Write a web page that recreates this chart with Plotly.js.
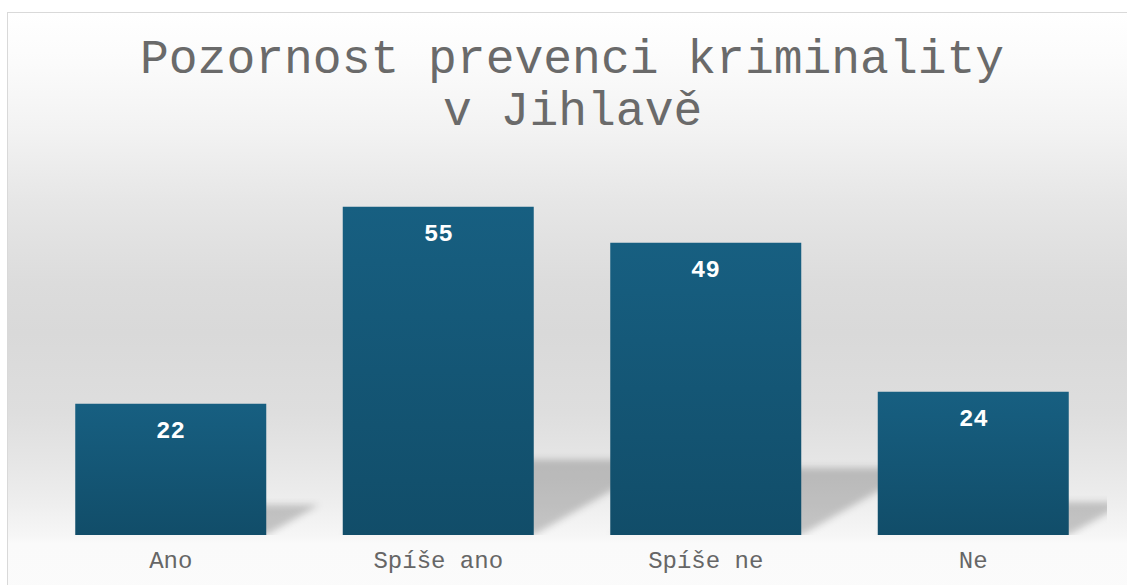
<!DOCTYPE html>
<html>
<head>
<meta charset="utf-8">
<script src="https://cdn.plot.ly/plotly-3.0.1.min.js"></script>
<style>
  html, body { margin: 0; padding: 0; width: 1127px; height: 585px; overflow: hidden; background: #ffffff; }
  #bg {
    position: absolute; left: 7px; top: 12px; width: 1133px; height: 600px;
    border: 1px solid #d9d9d9;
    background: linear-gradient(to bottom, #ffffff 0px, #fbfbfb 50px, #f2f2f2 120px, #e6e6e6 190px, #dcdcdc 270px, #d9d9d9 320px, #dedede 400px, #e6e6e6 450px, #eeeeee 490px, #f6f6f6 522px, #fafafa 530px, #fbfbfb 600px);
  }
  #chart { position: absolute; left: 0; top: 0; width: 1127px; height: 585px; }
</style>
</head>
<body>
<div id="bg"></div>
<svg width="0" height="0" style="position:absolute">
  <defs>
    <linearGradient id="barGrad" x1="0" y1="0" x2="0" y2="1">
      <stop offset="0" stop-color="#175f81"/>
      <stop offset="1" stop-color="#114d69"/>
    </linearGradient>
    <filter id="shadowBlur" x="-20%" y="-20%" width="140%" height="140%">
      <feGaussianBlur stdDeviation="3.5"/>
    </filter>
  </defs>
</svg>
<div id="chart"></div>
<script>
const categories = ["Ano", "Spíše ano", "Spíše ne", "Ne"];
const values = [22, 55, 49, 24];
const titleLines = ["Pozornost prevenci kriminality", "v Jihlavě"];

const barWidthFrac = 0.714;
const shadowRise = 0.23;
const shadowSkew = 0.009;
const monoFont = 'Liberation Mono, Courier New, monospace';

const shapes = values.map((v, i) => {
  const x0 = i - barWidthFrac / 2, x1 = i + barWidthFrac / 2;
  const s = v * shadowSkew, h = v * shadowRise;
  return {
    type: 'path', xref: 'x', yref: 'y', layer: 'below',
    path: `M ${x0},0 L ${x1},0 L ${x1 + s},${h} L ${x0 + s},${h} Z`,
    fillcolor: 'rgba(0,0,0,0.2)', line: { width: 0 }
  };
});

const annotations = values.map((v, i) => ({
  x: categories[i], y: v, xref: 'x', yref: 'y',
  text: String(v), showarrow: false, yanchor: 'top', yshift: -12,
  font: { family: monoFont, size: 24, color: '#ffffff', weight: 'bold' }
}));

const plotTop = 177, plotH = 585 - 177 - 50;
const titleCenters = [60, 112];
titleLines.forEach((t, k) => {
  annotations.push({
    x: 0.5, xref: 'paper', xanchor: 'center',
    y: 1 + (plotTop - titleCenters[k]) / plotH, yref: 'paper', yanchor: 'middle',
    text: t, showarrow: false,
    font: { family: monoFont, size: 48, color: '#6a6a6a' }
  });
});

const trace = {
  type: 'bar', x: categories, y: values,
  marker: { color: '#145a7a', line: { width: 0 } },
  hoverinfo: 'none'
};

const layout = {
  width: 1127, height: 585,
  margin: { l: 37, r: 20, t: plotTop, b: 50 },
  paper_bgcolor: 'rgba(0,0,0,0)', plot_bgcolor: 'rgba(0,0,0,0)',
  bargap: 1 - barWidthFrac,
  showlegend: false,
  xaxis: {
    type: 'category', range: [-0.5, categories.length - 0.5],
    showgrid: false, zeroline: false, showline: false, ticks: '',
    ticklabelstandoff: 8,
    tickfont: { family: monoFont, size: 24, color: '#666666' },
    fixedrange: true
  },
  yaxis: {
    range: [0, 60], visible: false, showgrid: false, zeroline: false, fixedrange: true
  },
  shapes: shapes,
  annotations: annotations
};

Plotly.newPlot('chart', [trace], layout, { displayModeBar: false, staticPlot: true }).then(() => {
  document.querySelectorAll('#chart .barlayer .point path').forEach(p => { p.style.fill = 'url(#barGrad)'; });
  document.querySelectorAll('#chart .shapelayer path').forEach(p => { p.setAttribute('filter', 'url(#shadowBlur)'); });
});
</script>
</body>
</html>
